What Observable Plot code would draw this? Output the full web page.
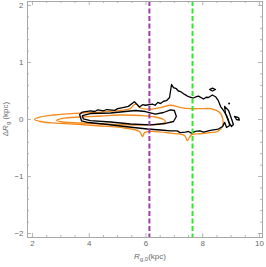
<!DOCTYPE html>
<html><head><meta charset="utf-8">
<script src="https://cdn.jsdelivr.net/npm/d3@7"></script>
<script src="https://cdn.jsdelivr.net/npm/@observablehq/plot@0.6"></script>
<style>body{margin:0;background:#fff} svg{display:block}</style>
</head><body><div id="chart"></div>
<script>
// ---- data ----
const xMajor = [2, 4, 6, 8, 10];
const xMinor = [2.5, 3, 3.5, 4.5, 5, 5.5, 6.5, 7, 7.5, 8.5, 9, 9.5];
const yMajor = [-2, -1, 0, 1, 2];
const yMinor = [-1.8, -1.6, -1.4, -1.2, -0.8, -0.6, -0.4, -0.2, 0.2, 0.4, 0.6, 0.8, 1.2, 1.4, 1.6, 1.8];
const purpleLineX = [6.12];
const greenLineX = [7.64];

const orangeOuter = [[2.07,0.00],[2.28,0.044],[2.74,0.079],[3.69,0.114],[4.40,0.13],[5.10,0.16],[5.45,0.19],[5.56,0.25],[5.67,0.27],[5.77,0.21],[6.16,0.18],[6.51,0.21],[6.86,0.25],[7.22,0.21],[7.57,0.19],[7.92,0.19],[8.27,0.19],[8.48,0.16],[8.63,0.105],[8.71,0.0],[8.70,-0.12],[8.52,-0.21],[8.27,-0.23],[7.92,-0.25],[7.60,-0.27],[7.46,-0.37],[7.36,-0.28],[6.86,-0.24],[6.16,-0.21],[5.95,-0.23],[5.88,-0.30],[5.77,-0.21],[5.10,-0.14],[4.40,-0.114],[3.69,-0.088],[2.74,-0.061],[2.28,-0.035]];
const orangeInner = [[2.85,-0.018],[3.06,0.018],[3.69,0.044],[4.40,0.061],[5.10,0.079],[5.81,0.07],[6.33,0.044],[6.62,0.0],[6.69,-0.044],[6.51,-0.079],[6.16,-0.096],[5.45,-0.096],[4.40,-0.079],[3.69,-0.061],[3.06,-0.044]];
const blackOuter = [[3.66,0.088],[3.76,0.13],[4.04,0.15],[4.20,0.14],[4.30,0.17],[4.50,0.15],[4.62,0.175],[4.90,0.16],[5.00,0.19],[5.10,0.20],[5.38,0.23],[5.59,0.31],[5.77,0.22],[5.88,0.26],[5.98,0.25],[6.23,0.27],[6.32,0.25],[6.42,0.30],[6.51,0.28],[6.62,0.32],[6.72,0.33],[6.83,0.386],[6.90,0.614],[6.97,0.56],[7.07,0.54],[7.14,0.50],[7.22,0.49],[7.36,0.44],[7.50,0.40],[7.67,0.377],[7.78,0.40],[7.85,0.41],[8.03,0.36],[8.12,0.39],[8.20,0.386],[8.34,0.43],[8.45,0.40],[8.55,0.33],[8.63,0.228],[8.73,0.158],[8.84,0.07],[8.91,-0.018],[8.95,-0.105],[8.84,-0.14],[8.77,-0.05],[8.70,-0.123],[8.55,-0.167],[8.27,-0.19],[8.03,-0.22],[7.90,-0.20],[7.74,-0.21],[7.60,-0.24],[7.50,-0.21],[7.39,-0.22],[7.20,-0.23],[7.10,-0.20],[6.86,-0.20],[6.51,-0.184],[6.05,-0.167],[5.56,-0.14],[5.10,-0.114],[4.50,-0.079],[3.97,-0.053],[3.73,-0.026]];
const blackInner = [[3.76,0.07],[4.04,0.105],[4.75,0.114],[5.28,0.14],[5.63,0.158],[5.98,0.14],[6.33,0.096],[6.62,0.123],[6.86,0.167],[7.00,0.158],[7.07,0.053],[6.97,-0.035],[6.69,-0.07],[6.16,-0.096],[5.45,-0.079],[4.75,-0.044],[4.04,-0.018],[3.79,0.009]];
const blackFinger = [[8.77,0.23],[8.91,0.158],[9.01,0.018],[9.08,-0.088],[9.01,-0.123],[8.91,-0.035],[8.80,0.105]];
const blackIsland = [[8.24,0.526],[8.34,0.55],[8.45,0.526],[8.34,0.50]];
const blackBlob = [[9.12,0.053],[9.26,0.035],[9.29,-0.009],[9.19,0.0]];
const blackDots = [[8.93,0.28]];

// ---- layout ----
const W = 266, H = 267, mt = 1, mr = 4, mb = 30, ml = 27;
const xDom = [1.824, 10.106], yDom = [-2.07, 2.07];
const pxX = (W - ml - mr) / (xDom[1] - xDom[0]);
const pxY = (H - mt - mb) / (yDom[1] - yDom[0]);
const tickGray = "#a3a3a3";
const toRows = (arr, id) => arr.map(([x, y]) => ({x, y, id}));
const orangeRows = [...toRows(orangeOuter, "o1"), ...toRows(orangeInner, "o2")];
const blackRows = [...toRows(blackOuter, "b1"), ...toRows(blackInner, "b2"), ...toRows(blackFinger, "b3"), ...toRows(blackIsland, "b4"), ...toRows(blackBlob, "b5")];

const tickMarks = (vals, lenPx) => [
  Plot.ruleX(vals, {x: d => d, y1: yDom[0], y2: yDom[0] + lenPx / pxY, stroke: tickGray, strokeWidth: 0.8}),
  Plot.ruleX(vals, {x: d => d, y1: yDom[1], y2: yDom[1] - lenPx / pxY, stroke: tickGray, strokeWidth: 0.8})
];
const tickMarksY = (vals, lenPx) => [
  Plot.ruleY(vals, {y: d => d, x1: xDom[0], x2: xDom[0] + lenPx / pxX, stroke: tickGray, strokeWidth: 0.8}),
  Plot.ruleY(vals, {y: d => d, x1: xDom[1], x2: xDom[1] - lenPx / pxX, stroke: tickGray, strokeWidth: 0.8})
];
const fmt = d => (d < 0 ? "\u2212" : "") + Math.abs(d);

const chart = Plot.plot({
  width: W, height: H,
  marginTop: mt, marginRight: mr, marginBottom: mb, marginLeft: ml,
  style: {fontFamily: "Liberation Sans, Arial, sans-serif", fontSize: "8px", color: "#6a6a6a", background: "#fff"},
  x: {domain: xDom},
  y: {domain: yDom},
  marks: [
    Plot.axisX({ticks: xMajor, tickSize: 0, tickPadding: 3, label: null, tickFormat: fmt}),
    Plot.axisY({ticks: yMajor, tickSize: 0, tickPadding: 4, label: null, tickFormat: fmt}),
    ...tickMarks(xMajor, 4), ...tickMarks(xMinor, 2),
    ...tickMarksY(yMajor, 4), ...tickMarksY(yMinor, 2),
    Plot.line(orangeRows, {x: "x", y: "y", z: "id", stroke: "#f48a1c", strokeWidth: 1.3, curve: "catmull-rom-closed"}),
    Plot.line(blackRows, {x: "x", y: "y", z: "id", stroke: "#000", strokeWidth: 1.3, curve: "linear-closed"}),
    Plot.dot(blackDots, {x: d => d[0], y: d => d[1], r: 1, fill: "#000"}),
    Plot.ruleX(purpleLineX, {x: d => d, stroke: "#9b3fa6", strokeWidth: 2, strokeDasharray: "5,2.5"}),
    Plot.ruleX(greenLineX, {x: d => d, stroke: "#2ee82e", strokeWidth: 2, strokeDasharray: "5,2.5"}),
    Plot.frame({stroke: "#a8a8a8", strokeWidth: 1})
  ]
});
document.getElementById("chart").appendChild(chart);

// axis titles with subscripts
const svg = d3.select(chart);
const yt = svg.append("text")
  .attr("transform", `translate(8,${mt + (H - mt - mb) / 2}) rotate(-90)`)
  .attr("text-anchor", "middle").attr("fill", "#6a6a6a").attr("font-size", 8);
yt.append("tspan").text("Δ");
yt.append("tspan").attr("font-style", "italic").text("R");
yt.append("tspan").attr("font-size", 6).attr("dy", 2).text("g");
yt.append("tspan").attr("dy", -2).text(" (kpc)");
const xt = svg.append("text")
  .attr("x", 150).attr("y", 259)
  .attr("text-anchor", "middle").attr("fill", "#6a6a6a").attr("font-size", 8);
xt.append("tspan").attr("font-style", "italic").text("R");
xt.append("tspan").attr("font-size", 6).attr("dy", 2).text("g,0");
xt.append("tspan").attr("dy", -2).text("(kpc)");
</script>
</body></html>
